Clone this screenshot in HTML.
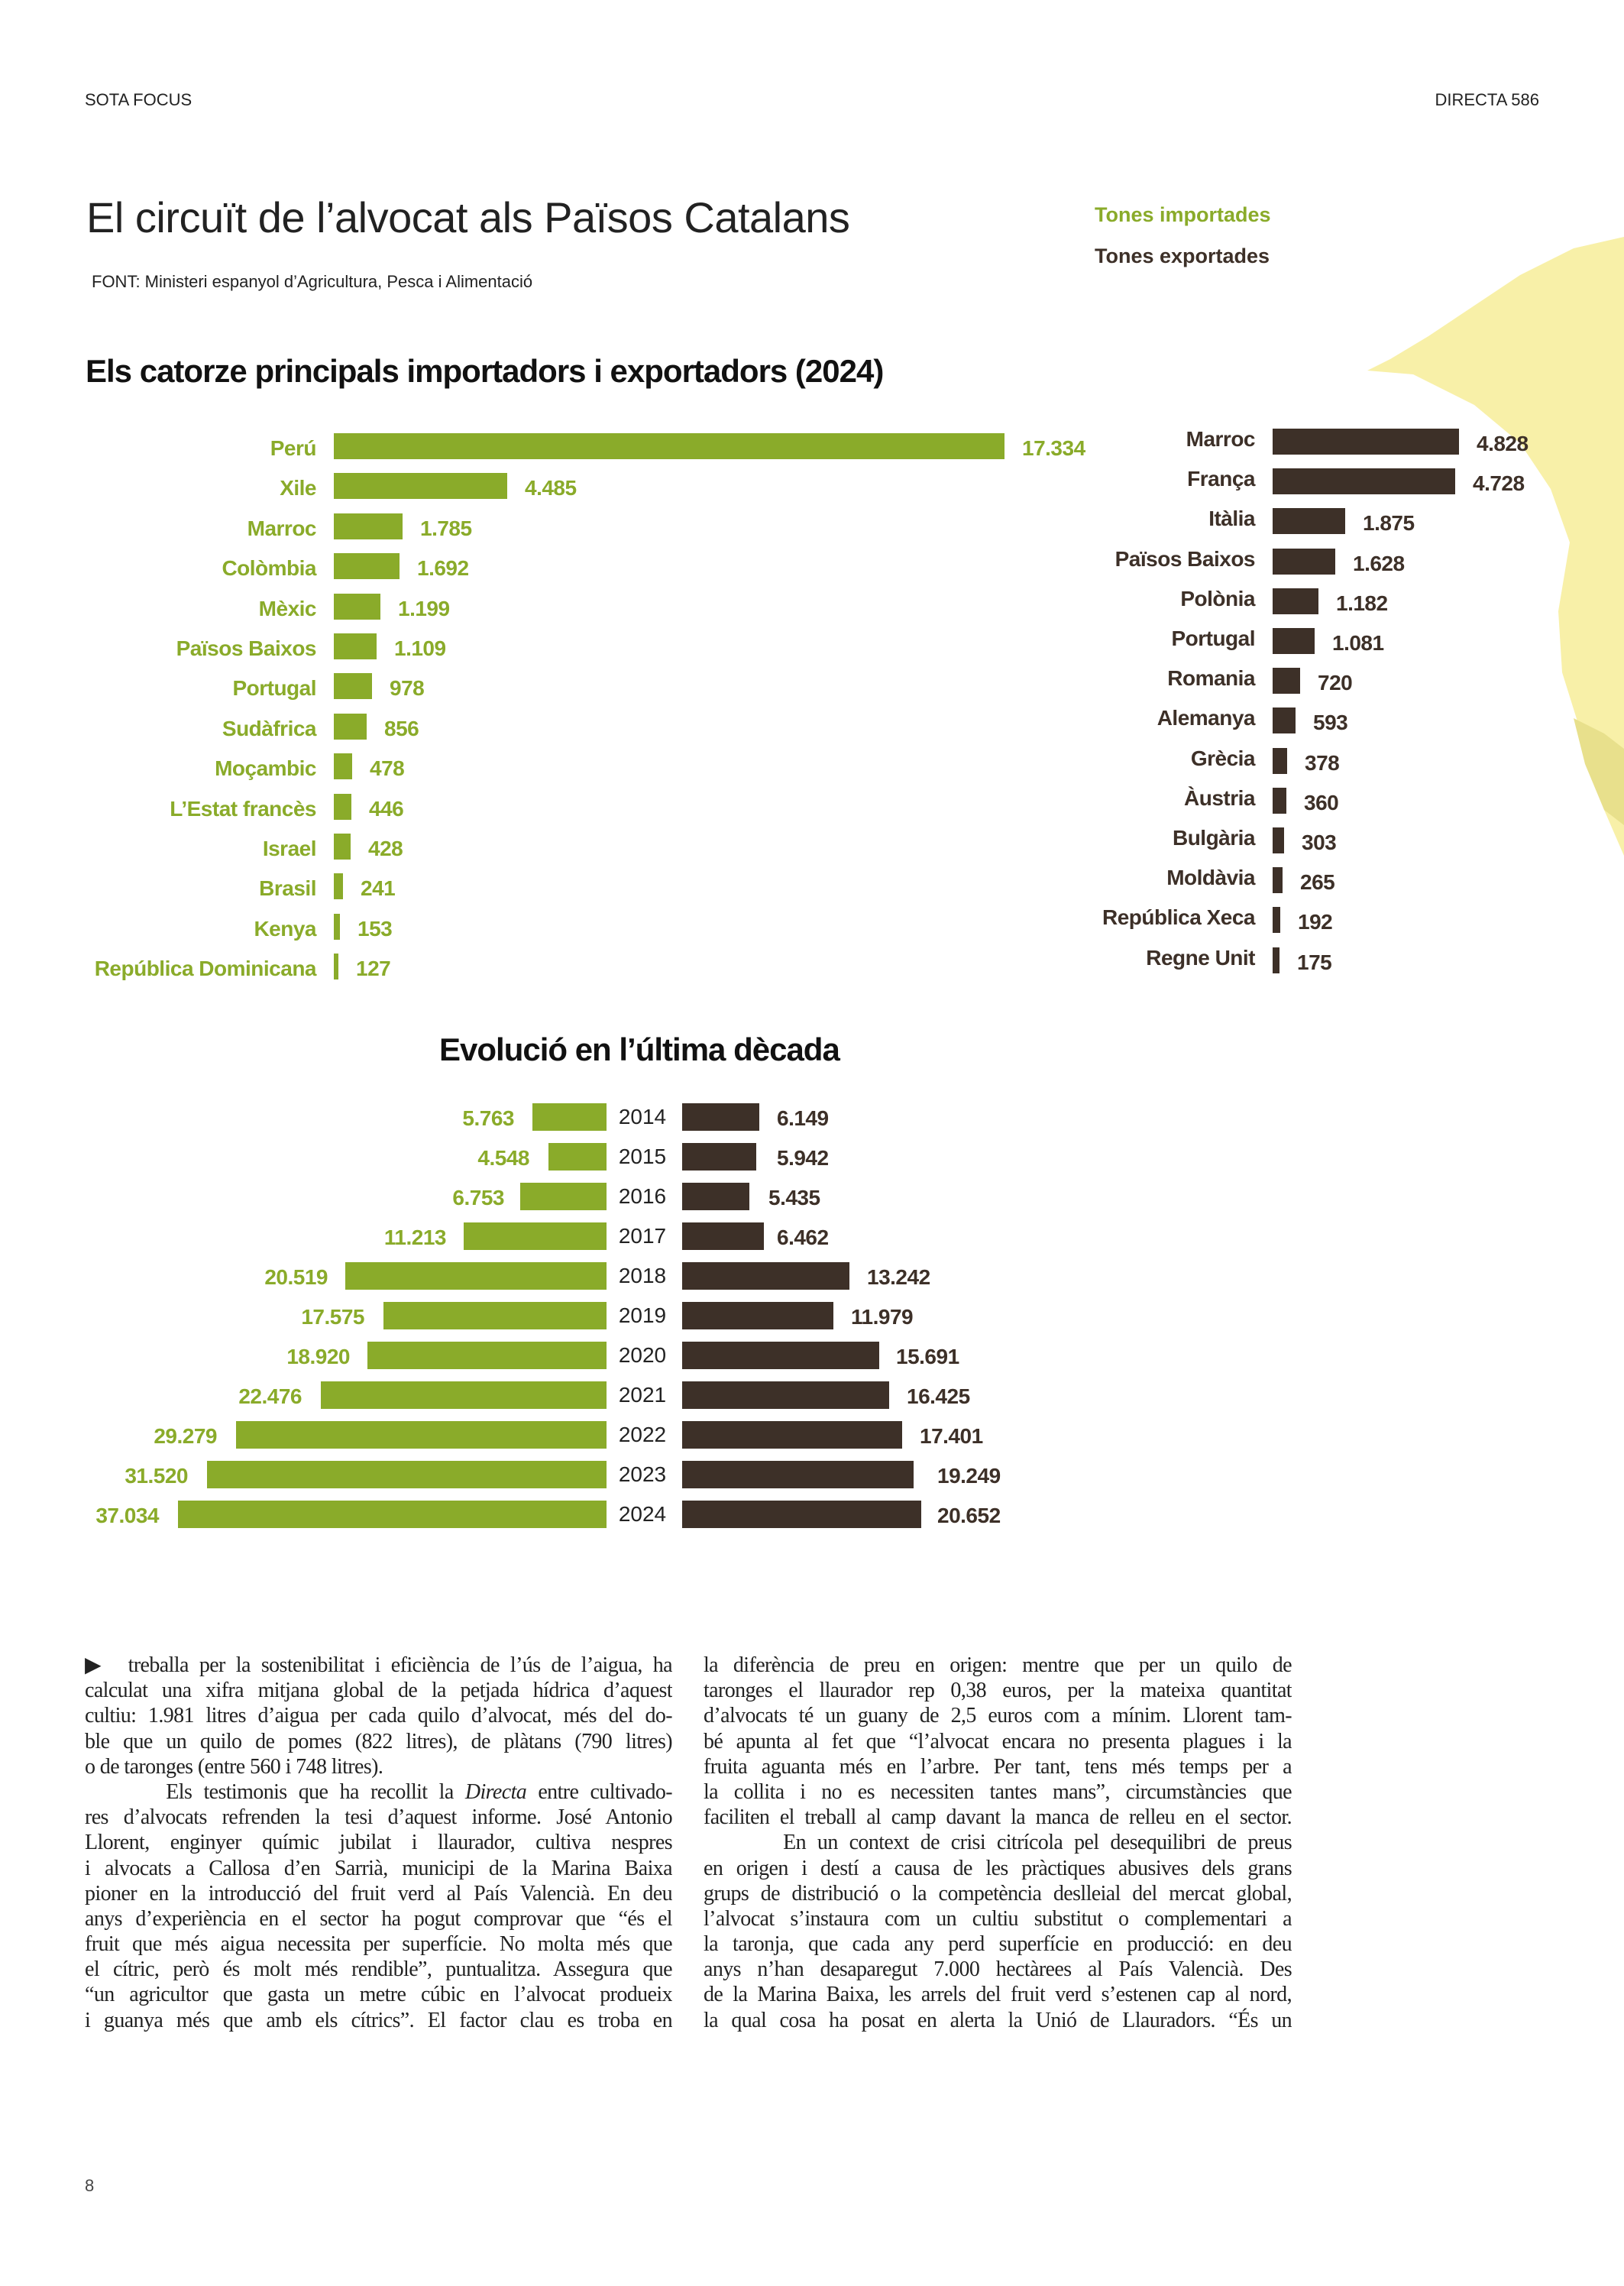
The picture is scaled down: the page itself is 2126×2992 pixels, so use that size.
<!DOCTYPE html>
<html><head><meta charset="utf-8">
<style>
body{margin:0;width:2126px;height:2992px;position:relative;background:#fff;overflow:hidden;font-family:"Liberation Sans",sans-serif}
div{position:absolute;white-space:nowrap}
.g{background:#8aab2a}.d{background:#3d3028}
.gl{color:#8aab2a;font-weight:bold;font-size:28px;line-height:34px;letter-spacing:-0.5px}
.dl{color:#3d3028;font-weight:bold;font-size:28px;line-height:34px;letter-spacing:-0.5px}
.yr{font-size:28px;line-height:36px;color:#222;width:100px;text-align:center;left:791px}
.txt{font-family:"Liberation Serif",serif;font-size:28px;line-height:33.2px;color:#222;letter-spacing:-0.6px;white-space:normal;text-align:justify;text-align-last:justify}
.txt span{display:block;height:33.2px;overflow:hidden}
</style></head><body>
<svg style="position:absolute;left:0;top:0" width="2126" height="2992">
<polygon fill="#f8f0a8" points="2126,310 2060,325 1990,360 1930,400 1870,440 1820,470 1790,485 1850,490 1930,530 1990,580 2030,640 2055,710 2040,800 2045,880 2070,960 2100,1060 2126,1120"/>
<polygon fill="#e8e08c" points="2060,940 2100,960 2126,980 2126,1080 2100,1060 2075,1000"/>
</svg>
<div style="left:111px;top:118px;font-size:22px;color:#222">SOTA FOCUS</div>
<div style="right:111px;top:118px;font-size:22px;color:#222">DIRECTA 586</div>
<div style="left:113px;top:252px;font-size:56px;color:#222;letter-spacing:-0.5px">El circuït de l’alvocat als Països Catalans</div>
<div style="left:120px;top:356px;font-size:22px;color:#222">FONT: Ministeri espanyol d’Agricultura, Pesca i Alimentació</div>
<div style="left:1433px;top:266px;font-size:27px;font-weight:bold;color:#8aab2a">Tones importades</div>
<div style="left:1433px;top:320px;font-size:27px;font-weight:bold;color:#3d3028">Tones exportades</div>
<div style="left:112px;top:462px;font-size:42px;font-weight:bold;color:#111;letter-spacing:-1px">Els catorze principals importadors i exportadors (2024)</div>

<!-- left bars -->
<div class="g" style="left:437px;top:567px;width:878px;height:34px"></div>
<div class="g" style="left:437px;top:619px;width:227px;height:34px"></div>
<div class="g" style="left:437px;top:672px;width:90px;height:34px"></div>
<div class="g" style="left:437px;top:724px;width:86px;height:34px"></div>
<div class="g" style="left:437px;top:777px;width:61px;height:34px"></div>
<div class="g" style="left:437px;top:829px;width:56px;height:34px"></div>
<div class="g" style="left:437px;top:881px;width:50px;height:34px"></div>
<div class="g" style="left:437px;top:934px;width:43px;height:34px"></div>
<div class="g" style="left:437px;top:986px;width:24px;height:34px"></div>
<div class="g" style="left:437px;top:1039px;width:23px;height:34px"></div>
<div class="g" style="left:437px;top:1091px;width:22px;height:34px"></div>
<div class="g" style="left:437px;top:1143px;width:12px;height:34px"></div>
<div class="g" style="left:437px;top:1196px;width:8px;height:34px"></div>
<div class="g" style="left:437px;top:1248px;width:6px;height:34px"></div>
<div class="gl" style="right:1712px;top:570px">Perú</div>
<div class="gl" style="right:1712px;top:622px">Xile</div>
<div class="gl" style="right:1712px;top:675px">Marroc</div>
<div class="gl" style="right:1712px;top:727px">Colòmbia</div>
<div class="gl" style="right:1712px;top:780px">Mèxic</div>
<div class="gl" style="right:1712px;top:832px">Països Baixos</div>
<div class="gl" style="right:1712px;top:884px">Portugal</div>
<div class="gl" style="right:1712px;top:937px">Sudàfrica</div>
<div class="gl" style="right:1712px;top:989px">Moçambic</div>
<div class="gl" style="right:1712px;top:1042px">L’Estat francès</div>
<div class="gl" style="right:1712px;top:1094px">Israel</div>
<div class="gl" style="right:1712px;top:1146px">Brasil</div>
<div class="gl" style="right:1712px;top:1199px">Kenya</div>
<div class="gl" style="right:1712px;top:1251px">República Dominicana</div>
<div class="gl" style="left:1338px;top:570px">17.334</div>
<div class="gl" style="left:687px;top:622px">4.485</div>
<div class="gl" style="left:550px;top:675px">1.785</div>
<div class="gl" style="left:546px;top:727px">1.692</div>
<div class="gl" style="left:521px;top:780px">1.199</div>
<div class="gl" style="left:516px;top:832px">1.109</div>
<div class="gl" style="left:510px;top:884px">978</div>
<div class="gl" style="left:503px;top:937px">856</div>
<div class="gl" style="left:484px;top:989px">478</div>
<div class="gl" style="left:483px;top:1042px">446</div>
<div class="gl" style="left:482px;top:1094px">428</div>
<div class="gl" style="left:472px;top:1146px">241</div>
<div class="gl" style="left:468px;top:1199px">153</div>
<div class="gl" style="left:466px;top:1251px">127</div>

<!-- right bars -->
<div class="d" style="left:1666px;top:561px;width:244px;height:34px"></div>
<div class="d" style="left:1666px;top:613px;width:239px;height:34px"></div>
<div class="d" style="left:1666px;top:665px;width:95px;height:34px"></div>
<div class="d" style="left:1666px;top:718px;width:82px;height:34px"></div>
<div class="d" style="left:1666px;top:770px;width:60px;height:34px"></div>
<div class="d" style="left:1666px;top:822px;width:55px;height:34px"></div>
<div class="d" style="left:1666px;top:874px;width:36px;height:34px"></div>
<div class="d" style="left:1666px;top:926px;width:30px;height:34px"></div>
<div class="d" style="left:1666px;top:979px;width:19px;height:34px"></div>
<div class="d" style="left:1666px;top:1031px;width:18px;height:34px"></div>
<div class="d" style="left:1666px;top:1083px;width:15px;height:34px"></div>
<div class="d" style="left:1666px;top:1135px;width:13px;height:34px"></div>
<div class="d" style="left:1666px;top:1187px;width:10px;height:34px"></div>
<div class="d" style="left:1666px;top:1240px;width:9px;height:34px"></div>
<div class="dl" style="right:483px;top:558px">Marroc</div>
<div class="dl" style="right:483px;top:610px">França</div>
<div class="dl" style="right:483px;top:662px">Itàlia</div>
<div class="dl" style="right:483px;top:715px">Països Baixos</div>
<div class="dl" style="right:483px;top:767px">Polònia</div>
<div class="dl" style="right:483px;top:819px">Portugal</div>
<div class="dl" style="right:483px;top:871px">Romania</div>
<div class="dl" style="right:483px;top:923px">Alemanya</div>
<div class="dl" style="right:483px;top:976px">Grècia</div>
<div class="dl" style="right:483px;top:1028px">Àustria</div>
<div class="dl" style="right:483px;top:1080px">Bulgària</div>
<div class="dl" style="right:483px;top:1132px">Moldàvia</div>
<div class="dl" style="right:483px;top:1184px">República Xeca</div>
<div class="dl" style="right:483px;top:1237px">Regne Unit</div>
<div class="dl" style="left:1933px;top:564px">4.828</div>
<div class="dl" style="left:1928px;top:616px">4.728</div>
<div class="dl" style="left:1784px;top:668px">1.875</div>
<div class="dl" style="left:1771px;top:721px">1.628</div>
<div class="dl" style="left:1749px;top:773px">1.182</div>
<div class="dl" style="left:1744px;top:825px">1.081</div>
<div class="dl" style="left:1725px;top:877px">720</div>
<div class="dl" style="left:1719px;top:929px">593</div>
<div class="dl" style="left:1708px;top:982px">378</div>
<div class="dl" style="left:1707px;top:1034px">360</div>
<div class="dl" style="left:1704px;top:1086px">303</div>
<div class="dl" style="left:1702px;top:1138px">265</div>
<div class="dl" style="left:1699px;top:1190px">192</div>
<div class="dl" style="left:1698px;top:1243px">175</div>

<!-- evolution -->
<div style="left:575px;top:1350px;font-size:42px;font-weight:bold;color:#111;letter-spacing:-1px">Evolució en l’última dècada</div>
<div class="g" style="right:1332px;top:1444px;width:97px;height:36px"></div>
<div class="g" style="right:1332px;top:1496px;width:76px;height:36px"></div>
<div class="g" style="right:1332px;top:1548px;width:113px;height:36px"></div>
<div class="g" style="right:1332px;top:1600px;width:187px;height:36px"></div>
<div class="g" style="right:1332px;top:1652px;width:342px;height:36px"></div>
<div class="g" style="right:1332px;top:1704px;width:292px;height:36px"></div>
<div class="g" style="right:1332px;top:1756px;width:313px;height:36px"></div>
<div class="g" style="right:1332px;top:1808px;width:374px;height:36px"></div>
<div class="g" style="right:1332px;top:1860px;width:485px;height:36px"></div>
<div class="g" style="right:1332px;top:1912px;width:523px;height:36px"></div>
<div class="g" style="right:1332px;top:1964px;width:561px;height:36px"></div>
<div class="gl" style="right:1453px;top:1447px">5.763</div>
<div class="gl" style="right:1433px;top:1499px">4.548</div>
<div class="gl" style="right:1466px;top:1551px">6.753</div>
<div class="gl" style="right:1542px;top:1603px">11.213</div>
<div class="gl" style="right:1697px;top:1655px">20.519</div>
<div class="gl" style="right:1649px;top:1707px">17.575</div>
<div class="gl" style="right:1668px;top:1759px">18.920</div>
<div class="gl" style="right:1731px;top:1811px">22.476</div>
<div class="gl" style="right:1842px;top:1863px">29.279</div>
<div class="gl" style="right:1880px;top:1915px">31.520</div>
<div class="gl" style="right:1918px;top:1967px">37.034</div>
<div class="yr" style="top:1444px">2014</div>
<div class="yr" style="top:1496px">2015</div>
<div class="yr" style="top:1548px">2016</div>
<div class="yr" style="top:1600px">2017</div>
<div class="yr" style="top:1652px">2018</div>
<div class="yr" style="top:1704px">2019</div>
<div class="yr" style="top:1756px">2020</div>
<div class="yr" style="top:1808px">2021</div>
<div class="yr" style="top:1860px">2022</div>
<div class="yr" style="top:1912px">2023</div>
<div class="yr" style="top:1964px">2024</div>
<div class="d" style="left:893px;top:1444px;width:101px;height:36px"></div>
<div class="d" style="left:893px;top:1496px;width:97px;height:36px"></div>
<div class="d" style="left:893px;top:1548px;width:88px;height:36px"></div>
<div class="d" style="left:893px;top:1600px;width:107px;height:36px"></div>
<div class="d" style="left:893px;top:1652px;width:219px;height:36px"></div>
<div class="d" style="left:893px;top:1704px;width:198px;height:36px"></div>
<div class="d" style="left:893px;top:1756px;width:258px;height:36px"></div>
<div class="d" style="left:893px;top:1808px;width:271px;height:36px"></div>
<div class="d" style="left:893px;top:1860px;width:288px;height:36px"></div>
<div class="d" style="left:893px;top:1912px;width:303px;height:36px"></div>
<div class="d" style="left:893px;top:1964px;width:313px;height:36px"></div>
<div class="dl" style="left:1017px;top:1447px">6.149</div>
<div class="dl" style="left:1017px;top:1499px">5.942</div>
<div class="dl" style="left:1006px;top:1551px">5.435</div>
<div class="dl" style="left:1017px;top:1603px">6.462</div>
<div class="dl" style="left:1135px;top:1655px">13.242</div>
<div class="dl" style="left:1114px;top:1707px">11.979</div>
<div class="dl" style="left:1173px;top:1759px">15.691</div>
<div class="dl" style="left:1187px;top:1811px">16.425</div>
<div class="dl" style="left:1204px;top:1863px">17.401</div>
<div class="dl" style="left:1227px;top:1915px">19.249</div>
<div class="dl" style="left:1227px;top:1967px">20.652</div>

<!-- body text -->
<div class="txt" style="left:111px;top:2163px;width:769px">
<span>▶&nbsp; treballa per la sostenibilitat i eficiència de l’ús de l’aigua, ha</span>
<span>calculat una xifra mitjana global de la petjada hídrica d’aquest</span>
<span>cultiu: 1.981 litres d’aigua per cada quilo d’alvocat, més del do-</span>
<span>ble que un quilo de pomes (822 litres), de plàtans (790 litres)</span>
<span style="text-align-last:left">o de taronges (entre 560 i 748 litres).</span>
<span>&nbsp;&nbsp;&nbsp;&nbsp;&nbsp;&nbsp;&nbsp;Els testimonis que ha recollit la <i>Directa</i> entre cultivado-</span>
<span>res d’alvocats refrenden la tesi d’aquest informe. José Antonio</span>
<span>Llorent, enginyer químic jubilat i llaurador, cultiva nespres</span>
<span>i alvocats a Callosa d’en Sarrià, municipi de la Marina Baixa</span>
<span>pioner en la introducció del fruit verd al País Valencià. En deu</span>
<span>anys d’experiència en el sector ha pogut comprovar que “és el</span>
<span>fruit que més aigua necessita per superfície. No molta més que</span>
<span>el cítric, però és molt més rendible”, puntualitza. Assegura que</span>
<span>“un agricultor que gasta un metre cúbic en l’alvocat produeix</span>
<span>i guanya més que amb els cítrics”. El factor clau es troba en</span>
</div>
<div class="txt" style="left:921px;top:2163px;width:770px">
<span>la diferència de preu en origen: mentre que per un quilo de</span>
<span>taronges el llaurador rep 0,38 euros, per la mateixa quantitat</span>
<span>d’alvocats té un guany de 2,5 euros com a mínim. Llorent tam-</span>
<span>bé apunta al fet que “l’alvocat encara no presenta plagues i la</span>
<span>fruita aguanta més en l’arbre. Per tant, tens més temps per a</span>
<span>la collita i no es necessiten tantes mans”, circumstàncies que</span>
<span>faciliten el treball al camp davant la manca de relleu en el sector.</span>
<span>&nbsp;&nbsp;&nbsp;&nbsp;&nbsp;&nbsp;&nbsp;En un context de crisi citrícola pel desequilibri de preus</span>
<span>en origen i destí a causa de les pràctiques abusives dels grans</span>
<span>grups de distribució o la competència deslleial del mercat global,</span>
<span>l’alvocat s’instaura com un cultiu substitut o complementari a</span>
<span>la taronja, que cada any perd superfície en producció: en deu</span>
<span>anys n’han desaparegut 7.000 hectàrees al País Valencià. Des</span>
<span>de la Marina Baixa, les arrels del fruit verd s’estenen cap al nord,</span>
<span>la qual cosa ha posat en alerta la Unió de Llauradors. “És un</span>
</div>
<div style="left:111px;top:2848px;font-size:22px;color:#444">8</div>
</body></html>
